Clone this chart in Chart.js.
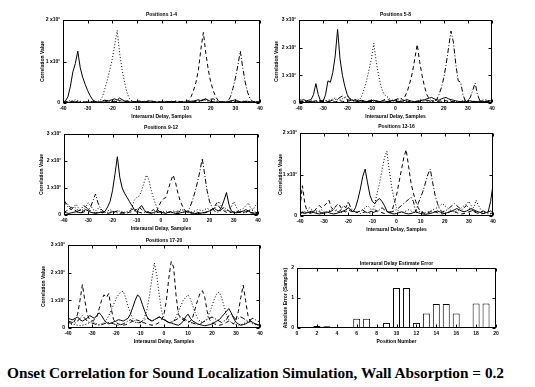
<!DOCTYPE html>
<html><head><meta charset="utf-8">
<script src="https://cdn.jsdelivr.net/npm/chart.js@4"></script>
<style>
html,body{margin:0;padding:0;background:#fff}
body{width:535px;height:387px;position:relative;overflow:hidden}
canvas{position:absolute}
#cap{position:absolute;left:7px;top:365px;font:bold 15.3px "Liberation Serif","Times New Roman",serif;line-height:16px;white-space:nowrap;color:#000}
</style></head><body>
<div id="cap">Onset Correlation for Sound Localization Simulation, Wall Absorption = 0.2</div>
<script>
// ---------- DATA ----------
const delays = [-40,-39,-38,-37,-36,-35,-34,-33,-32,-31,-30,-29,-28,-27,-26,-25,-24,-23,-22,-21,
-20,-19,-18,-17,-16,-15,-14,-13,-12,-11,-10,-9,-8,-7,-6,-5,-4,-3,-2,-1,
0,1,2,3,4,5,6,7,8,9,10,11,12,13,14,15,16,17,18,19,20,21,22,23,24,25,26,27,28,29,
30,31,32,33,34,35,36,37,38,39,40];

const p1Solid = [0.02,0.05,0.15,0.40,0.75,0.95,1.25,0.85,0.62,0.45,
0.30,0.18,0.08,0.04,0.02,0.02,0.03,0.02,0.04,0.06,
0.08,0.10,0.07,0.12,0.08,0.05,0.04,0.03,0.02,0.03,
0.04,0.03,0.02,0.02,0.03,0.05,0.04,0.03,0.02,0.02,
0.03,0.02,0.02,0.03,0.04,0.03,0.02,0.02,0.03,0.02,
0.02,0.03,0.04,0.05,0.06,0.08,0.05,0.07,0.10,0.06,
0.04,0.03,0.02,0.02,0.03,0.02,0.02,0.03,0.05,0.06,
0.08,0.05,0.03,0.02,0.03,0.04,0.03,0.02,0.02,0.03,0.02];
const p1Dotted = [0.03,0.02,0.04,0.06,0.05,0.08,0.06,0.04,0.03,0.02,
0.03,0.02,0.02,0.03,0.04,0.05,0.15,0.35,0.55,0.80,
1.05,1.40,1.75,1.20,0.80,0.50,0.25,0.10,0.05,0.03,
0.02,0.03,0.04,0.03,0.02,0.02,0.03,0.04,0.03,0.02,
0.02,0.03,0.02,0.02,0.03,0.04,0.05,0.04,0.03,0.02,
0.02,0.03,0.04,0.03,0.02,0.03,0.05,0.08,0.06,0.04,
0.03,0.02,0.02,0.03,0.04,0.03,0.02,0.03,0.05,0.04,
0.03,0.02,0.03,0.04,0.05,0.04,0.03,0.02,0.02,0.03,0.02];
const p1Dashed = [0.02,0.03,0.02,0.03,0.04,0.03,0.02,0.02,0.03,0.02,
0.02,0.03,0.04,0.03,0.02,0.02,0.03,0.05,0.06,0.04,
0.03,0.05,0.08,0.06,0.04,0.03,0.05,0.06,0.04,0.03,
0.04,0.05,0.03,0.02,0.04,0.06,0.05,0.03,0.02,0.03,
0.02,0.03,0.04,0.03,0.02,0.03,0.05,0.04,0.03,0.04,
0.05,0.05,0.15,0.30,0.50,0.80,1.30,1.70,1.20,0.80,
0.50,0.30,0.15,0.06,0.03,0.02,0.03,0.04,0.03,0.02,
0.02,0.03,0.02,0.03,0.04,0.03,0.02,0.02,0.03,0.02,0.02];
const p1DashDot = [0.02,0.02,0.03,0.02,0.02,0.03,0.04,0.03,0.02,0.02,
0.03,0.02,0.02,0.03,0.02,0.03,0.05,0.07,0.05,0.03,
0.02,0.03,0.04,0.03,0.02,0.02,0.03,0.02,0.02,0.03,
0.02,0.02,0.03,0.04,0.03,0.02,0.02,0.03,0.02,0.02,
0.03,0.02,0.02,0.03,0.04,0.03,0.02,0.02,0.03,0.02,
0.02,0.03,0.02,0.03,0.04,0.05,0.06,0.08,0.10,0.07,
0.09,0.10,0.06,0.04,0.03,0.02,0.03,0.05,0.15,0.35,
0.60,0.90,1.25,0.85,0.50,0.25,0.10,0.04,0.03,0.02,0.02];

const p2Solid = [0.12,0.10,0.12,0.08,0.10,0.12,0.30,0.70,0.30,0.05,
0.05,0.30,0.80,0.75,1.10,1.70,2.66,1.60,1.00,0.60,
0.30,0.15,0.10,0.08,0.06,0.08,0.10,0.07,0.05,0.06,
0.08,0.10,0.07,0.05,0.06,0.08,0.06,0.05,0.07,0.09,
0.08,0.06,0.05,0.07,0.10,0.12,0.08,0.06,0.05,0.07,
0.08,0.10,0.12,0.15,0.18,0.20,0.15,0.12,0.10,0.15,
0.18,0.20,0.15,0.12,0.10,0.08,0.06,0.05,0.06,0.05,
0.06,0.08,0.05,0.06,0.05,0.07,0.06,0.05,0.06,0.08,0.07];
const p2Dotted = [0.05,0.06,0.05,0.04,0.06,0.08,0.06,0.05,0.04,0.05,
0.06,0.08,0.10,0.12,0.15,0.18,0.12,0.10,0.15,0.20,
0.25,0.18,0.12,0.10,0.15,0.10,0.25,0.50,0.80,1.20,
1.60,2.16,1.50,1.00,0.60,0.35,0.25,0.20,0.12,0.10,
0.12,0.15,0.10,0.08,0.10,0.12,0.08,0.06,0.05,0.06,
0.08,0.10,0.08,0.06,0.05,0.06,0.08,0.10,0.06,0.05,
0.04,0.05,0.06,0.08,0.06,0.05,0.04,0.06,0.08,0.10,
0.08,0.06,0.05,0.04,0.06,0.08,0.10,0.12,0.10,0.08,0.06];
const p2Dashed = [0.04,0.05,0.06,0.05,0.04,0.05,0.06,0.08,0.10,0.06,
0.05,0.04,0.05,0.06,0.05,0.04,0.06,0.08,0.06,0.05,
0.06,0.08,0.10,0.12,0.10,0.08,0.06,0.05,0.06,0.08,
0.10,0.08,0.06,0.05,0.06,0.10,0.15,0.12,0.08,0.10,
0.12,0.15,0.20,0.10,0.25,0.45,0.75,1.10,1.60,2.12,
1.50,1.00,0.60,0.30,0.15,0.08,0.06,0.05,0.06,0.08,
0.10,0.08,0.06,0.05,0.06,0.05,0.04,0.05,0.06,0.05,
0.04,0.05,0.06,0.05,0.04,0.05,0.06,0.08,0.06,0.05,0.04];
const p2DashDot = [0.06,0.05,0.04,0.05,0.06,0.05,0.04,0.05,0.06,0.08,
0.10,0.08,0.06,0.08,0.10,0.12,0.15,0.20,0.25,0.18,
0.12,0.10,0.08,0.06,0.05,0.06,0.08,0.06,0.05,0.06,
0.05,0.06,0.08,0.06,0.05,0.04,0.05,0.06,0.05,0.04,
0.05,0.06,0.05,0.04,0.05,0.06,0.05,0.04,0.05,0.06,
0.05,0.06,0.08,0.10,0.08,0.06,0.08,0.10,0.30,0.55,
0.90,1.40,2.00,2.60,2.20,1.40,0.80,0.75,0.30,0.05,
0.10,0.20,0.45,0.72,0.30,0.08,0.06,0.05,0.06,0.08,0.06];

const p3Solid = [0.10,0.08,0.06,0.08,0.10,0.12,0.10,0.08,0.15,0.20,
0.15,0.10,0.08,0.06,0.08,0.10,0.08,0.15,0.30,0.50,
0.90,1.50,2.16,1.40,1.00,0.80,0.65,0.50,0.35,0.20,
0.10,0.25,0.35,0.20,0.10,0.08,0.06,0.10,0.12,0.15,
0.10,0.08,0.06,0.10,0.12,0.08,0.06,0.05,0.08,0.10,
0.12,0.15,0.10,0.08,0.06,0.05,0.06,0.08,0.10,0.12,
0.15,0.20,0.25,0.18,0.15,0.30,0.55,0.83,0.40,0.15,
0.10,0.08,0.10,0.12,0.15,0.20,0.15,0.10,0.08,0.06,0.05];
const p3Dotted = [0.30,0.45,0.35,0.20,0.30,0.40,0.25,0.15,0.20,0.30,
0.45,0.35,0.20,0.15,0.25,0.20,0.12,0.10,0.15,0.20,
0.15,0.10,0.12,0.15,0.12,0.10,0.08,0.10,0.30,0.55,
0.65,0.70,0.90,1.20,1.48,1.30,0.90,0.60,0.35,0.15,
0.10,0.12,0.15,0.10,0.08,0.10,0.12,0.15,0.20,0.15,
0.10,0.08,0.10,0.12,0.15,0.20,0.18,0.15,0.20,0.25,
0.20,0.15,0.25,0.35,0.50,0.30,0.20,0.15,0.25,0.30,
0.50,0.30,0.15,0.20,0.25,0.35,0.45,0.25,0.20,0.35,0.50];
const p3Dashed = [0.10,0.15,0.20,0.30,0.20,0.15,0.10,0.08,0.10,0.15,
0.20,0.15,0.10,0.08,0.10,0.12,0.10,0.08,0.06,0.08,
0.10,0.12,0.15,0.10,0.08,0.06,0.08,0.10,0.12,0.15,
0.20,0.30,0.20,0.15,0.10,0.12,0.15,0.20,0.10,0.30,
0.50,0.60,0.65,0.95,1.25,1.48,1.20,0.80,0.50,0.30,
0.15,0.10,0.08,0.06,0.08,0.10,0.08,0.06,0.08,0.10,
0.15,0.20,0.30,0.45,0.30,0.20,0.15,0.10,0.08,0.10,
0.12,0.15,0.10,0.08,0.10,0.12,0.10,0.08,0.06,0.08,0.10];
const p3DashDot = [0.55,0.40,0.25,0.20,0.30,0.25,0.15,0.20,0.35,0.30,
0.20,0.30,0.55,0.78,0.45,0.25,0.15,0.10,0.08,0.10,
0.12,0.10,0.08,0.06,0.08,0.10,0.12,0.15,0.20,0.25,
0.15,0.10,0.08,0.10,0.12,0.10,0.08,0.06,0.08,0.10,
0.12,0.10,0.08,0.10,0.12,0.15,0.12,0.10,0.15,0.20,
0.15,0.10,0.30,0.55,0.85,1.20,1.60,2.10,1.50,0.90,
0.50,0.30,0.15,0.10,0.12,0.20,0.30,0.20,0.15,0.10,
0.08,0.10,0.12,0.10,0.08,0.10,0.15,0.20,0.15,0.10,0.08];

const p4Solid = [0.10,0.08,0.06,0.08,0.10,0.12,0.08,0.06,0.05,0.06,
0.08,0.10,0.08,0.06,0.05,0.06,0.08,0.10,0.12,0.15,
0.20,0.15,0.10,0.20,0.40,0.65,0.95,1.13,0.80,0.50,
0.35,0.30,0.38,0.42,0.35,0.25,0.12,0.08,0.06,0.05,
0.06,0.08,0.10,0.08,0.06,0.05,0.06,0.08,0.10,0.08,
0.06,0.05,0.04,0.05,0.06,0.08,0.10,0.12,0.10,0.08,
0.06,0.08,0.10,0.12,0.15,0.18,0.15,0.12,0.10,0.12,
0.15,0.18,0.15,0.12,0.10,0.08,0.06,0.08,0.10,0.35,0.75];
const p4Dotted = [0.15,0.10,0.08,0.12,0.20,0.15,0.10,0.08,0.12,0.15,
0.10,0.08,0.12,0.15,0.20,0.15,0.10,0.08,0.10,0.15,
0.20,0.15,0.12,0.10,0.08,0.12,0.15,0.20,0.25,0.20,
0.10,0.30,0.55,0.80,1.10,1.40,1.56,1.10,0.70,0.40,
0.20,0.10,0.08,0.10,0.12,0.15,0.12,0.10,0.08,0.10,
0.12,0.10,0.08,0.10,0.12,0.15,0.18,0.20,0.25,0.30,
0.25,0.20,0.15,0.12,0.10,0.12,0.15,0.20,0.25,0.28,
0.35,0.25,0.20,0.38,0.25,0.15,0.10,0.08,0.06,0.05,0.06];
const p4Dashed = [0.20,0.73,0.30,0.10,0.08,0.10,0.12,0.20,0.25,0.20,
0.25,0.30,0.38,0.20,0.15,0.25,0.30,0.20,0.12,0.10,
0.15,0.12,0.10,0.08,0.10,0.12,0.15,0.10,0.08,0.10,
0.12,0.15,0.12,0.10,0.08,0.06,0.08,0.10,0.10,0.30,
0.50,0.80,1.10,1.40,1.60,1.20,0.80,0.55,0.35,0.20,
0.10,0.08,0.06,0.08,0.10,0.12,0.10,0.08,0.06,0.05,
0.06,0.08,0.10,0.12,0.10,0.08,0.06,0.05,0.06,0.08,
0.10,0.12,0.10,0.08,0.06,0.05,0.06,0.08,0.10,0.12,0.10];
const p4DashDot = [0.06,0.08,0.10,0.08,0.06,0.08,0.10,0.12,0.10,0.08,
0.06,0.08,0.10,0.12,0.15,0.12,0.10,0.15,0.25,0.20,
0.35,0.20,0.12,0.10,0.08,0.06,0.08,0.10,0.08,0.06,
0.08,0.10,0.12,0.15,0.20,0.15,0.10,0.08,0.10,0.12,
0.15,0.20,0.25,0.30,0.35,0.40,0.45,0.35,0.10,0.30,
0.45,0.60,0.80,1.00,1.13,0.80,0.50,0.30,0.15,0.10,
0.12,0.15,0.20,0.25,0.30,0.25,0.20,0.15,0.20,0.25,
0.20,0.15,0.12,0.10,0.08,0.10,0.12,0.10,0.08,0.06,0.08];

const p5Solid = [0.35,0.32,0.30,0.35,0.40,0.30,0.25,0.30,0.35,0.45,
0.40,0.35,0.45,0.55,0.45,0.30,0.20,0.15,0.18,0.22,
0.25,0.30,0.28,0.25,0.30,0.35,0.50,0.75,1.00,1.20,
1.10,0.85,0.60,0.40,0.30,0.25,0.30,0.35,0.40,0.35,
0.30,0.25,0.20,0.18,0.15,0.12,0.10,0.15,0.25,0.40,
0.50,0.35,0.25,0.20,0.15,0.12,0.10,0.08,0.10,0.12,
0.15,0.20,0.25,0.30,0.40,0.50,0.60,0.70,0.55,0.35,
0.20,0.15,0.10,0.12,0.15,0.20,0.25,0.20,0.15,0.12,0.10];
const p5Dotted = [0.10,0.12,0.15,0.12,0.10,0.08,0.10,0.12,0.15,0.20,
0.25,0.20,0.15,0.12,0.15,0.20,0.30,0.45,0.65,0.85,
1.05,1.20,1.30,1.33,1.10,0.80,0.55,0.35,0.25,0.20,
0.18,0.25,0.40,0.70,1.20,1.80,2.35,1.90,1.20,0.60,
0.35,0.25,0.20,0.18,0.25,0.40,0.60,0.80,1.00,1.10,
1.20,1.05,0.80,0.55,0.35,0.25,0.20,0.25,0.35,0.55,
0.80,1.05,1.25,1.30,1.10,0.80,0.50,0.30,0.20,0.15,
0.12,0.10,0.12,0.15,0.20,0.25,0.20,0.15,0.12,0.10,0.12];
const p5Dashed = [0.20,0.18,0.15,0.30,0.50,1.00,1.57,1.00,0.50,0.30,
0.25,0.30,0.40,0.70,1.00,1.20,1.10,1.25,0.70,0.30,
0.20,0.15,0.12,0.10,0.12,0.15,0.20,0.25,0.30,0.28,
0.25,0.20,0.18,0.15,0.12,0.10,0.12,0.15,0.20,0.30,
0.50,1.00,1.80,2.40,2.20,1.20,0.50,0.35,0.30,0.25,
0.20,0.25,0.40,0.70,1.00,1.25,1.35,1.10,0.60,0.30,
0.20,0.15,0.12,0.10,0.12,0.15,0.20,0.25,0.20,0.15,
0.30,0.60,1.10,1.55,1.00,0.45,0.25,0.20,0.15,0.12,0.10];
const p5DashDot = [0.25,0.22,0.20,0.18,0.25,0.35,0.45,0.35,0.25,0.20,
0.18,0.15,0.12,0.10,0.12,0.15,0.18,0.20,0.18,0.15,
0.12,0.10,0.12,0.15,0.20,0.25,0.30,0.25,0.20,0.18,
0.20,0.25,0.30,0.35,0.30,0.25,0.30,0.35,0.40,0.35,
0.30,0.25,0.20,0.22,0.25,0.30,0.35,0.40,0.35,0.30,
0.25,0.20,0.18,0.15,0.12,0.15,0.20,0.25,0.30,0.35,
0.40,0.35,0.30,0.25,0.20,0.25,0.30,0.45,0.50,0.40,
0.30,0.35,0.40,0.35,0.30,0.25,0.30,0.35,0.30,0.25,0.22];

const positions = [1,2,3,4,5,6,7,8,9,10,11,12,13,14,15,16,17,18,19,20];
const absErrors = [0.02,0.07,0.06,0.02,0.02,0.31,0.31,0.02,0.17,1.33,1.33,0.17,0.48,0.80,0.80,0.48,0.02,0.82,0.82,0.02];

const yTickLabels = ['0','1 x10\u00b2','2 x10\u00b2','3 x10\u00b2'];
const errTickLabels = ['0','1','2'];

const titles = ['Positions 1-4','Positions 5-8','Positions 9-12','Positions 13-16','Positions 17-20','Interaural Delay Estimate Error'];
const xTitle = 'Interaural Delay, Samples';
const yTitle = 'Correlation Value';
const barXTitle = 'Position Number';
const barYTitle = 'Absolute Error (Samples)';

// ---------- RENDERING ----------
const FONT = '"Liberation Sans", Arial, sans-serif';
const dashes = [[], [1,2], [4,3], [5,2,1,2]];

function makeFrame(title, dy){
  return {
    id:'frame',
    afterDatasetsDraw(chart){
      const {ctx, chartArea:a} = chart;
      const x = chart.scales.x, y = chart.scales.y;
      ctx.save();
      ctx.strokeStyle='#000'; ctx.lineWidth=1; ctx.setLineDash([]);
      const l=Math.round(a.left)+0.5, r=Math.round(a.right)-0.5, t=Math.round(a.top)+0.5, b=Math.round(a.bottom)-0.5;
      ctx.strokeRect(l,t,r-l,b-t);
      const L=3;
      ctx.beginPath();
      x.ticks.forEach(tk=>{const px=Math.round(x.getPixelForValue(tk.value))+0.5;
        ctx.moveTo(px,b); ctx.lineTo(px,b-L); ctx.moveTo(px,t); ctx.lineTo(px,t+L);});
      y.ticks.forEach(tk=>{const py=Math.round(y.getPixelForValue(tk.value))+0.5;
        ctx.moveTo(l,py); ctx.lineTo(l+L,py); ctx.moveTo(r,py); ctx.lineTo(r-L,py);});
      ctx.stroke();
      ctx.fillStyle='#000';
      ctx.font='bold 5px '+FONT;
      ctx.textAlign='center'; ctx.textBaseline='middle';
      ctx.fillText(title,(a.left+a.right)/2,a.top-dy);
      ctx.restore();
    }
  };
}

function mkCanvas(p){
  const left=p.L-48, top=p.T-12, w=p.R-left+10, h=p.B-top+20;
  const cv=document.createElement('canvas');
  cv.width=w; cv.height=h; cv.style.width=w+'px'; cv.style.height=h+'px';
  cv.style.left=left+'px'; cv.style.top=top+'px';
  document.body.appendChild(cv);
  return cv;
}

function baseOptions(p, xt, yt, xmin, xmax, xstep, ymax, labels){
  return {
    responsive:false, animation:false, devicePixelRatio:1,
    layout:{padding:{left:0,right:10,top:12,bottom:0}},
    plugins:{legend:{display:false}, tooltip:{enabled:false}, title:{display:false}},
    scales:{
      x:{type:'linear', min:xmin, max:xmax, offset:false,
        ticks:{stepSize:xstep, color:'#000', font:{family:FONT,size:5,weight:'bold'}, padding:3, maxRotation:0, autoSkip:false},
        grid:{display:false, drawTicks:false}, border:{display:false},
        title:{display:true, text:xt, color:'#000', font:{family:FONT,size:5,weight:'bold',lineHeight:1}, padding:{top:0,bottom:p.xtb}},
        afterFit(s){s.height=20;}},
      y:{min:0, max:ymax,
        ticks:{stepSize:1, color:'#000', font:{family:FONT,size:5,weight:'bold'}, padding:3, callback:(v)=>labels[v]},
        grid:{display:false, drawTicks:false}, border:{display:false},
        title:{display:true, text:yt, color:'#000', font:{family:FONT,size:5,weight:'bold',lineHeight:1}, padding:{top:p.yto,bottom:0}},
        afterFit(s){s.width=48;}}
    }
  };
}

const panels = [
  {L:63,T:20,R:260,B:103,ymax:2,series:[p1Solid,p1Dotted,p1Dashed,p1DashDot],yto:25,xtb:4,dy:5},
  {L:299,T:20,R:492,B:103,ymax:3,series:[p2Solid,p2Dotted,p2Dashed,p2DashDot],yto:23,xtb:4,dy:5},
  {L:64,T:134,R:258,B:215,ymax:3,series:[p3Solid,p3Dotted,p3Dashed,p3DashDot],yto:23,xtb:4,dy:6},
  {L:300,T:133,R:493,B:216,ymax:2,series:[p4Solid,p4Dotted,p4Dashed,p4DashDot],yto:26,xtb:4,dy:6},
  {L:68,T:245,R:260,B:328,ymax:3,series:[p5Solid,p5Dotted,p5Dashed,p5DashDot],yto:21,xtb:4,dy:4}
];

panels.forEach((p,k)=>{
  const cv=mkCanvas(p);
  new Chart(cv,{
    type:'line',
    data:{datasets:p.series.map((s,j)=>({
      data:s.map((v,i)=>({x:delays[i],y:v})),
      borderColor:'#000', borderWidth:1, borderDash:dashes[j], pointRadius:0, fill:false, tension:0
    }))},
    options:baseOptions(p,xTitle,yTitle,-40,40,10,p.ymax,yTickLabels),
    plugins:[makeFrame(titles[k],p.dy)]
  });
});

const bp={L:297,T:268,R:496,B:328,yto:34,xtb:4,dy:4};
const bcv=mkCanvas(bp);
new Chart(bcv,{
  type:'bar',
  data:{datasets:[{
    data:positions.map((p,i)=>({x:p,y:absErrors[i]})),
    backgroundColor:'#fff', borderColor:'#000', borderWidth:1,
    barPercentage:0.7, categoryPercentage:1
  }]},
  options:baseOptions(bp,barXTitle,barYTitle,0,20,2,2,errTickLabels),
  plugins:[makeFrame(titles[5],bp.dy)]
});
</script>
</body></html>
